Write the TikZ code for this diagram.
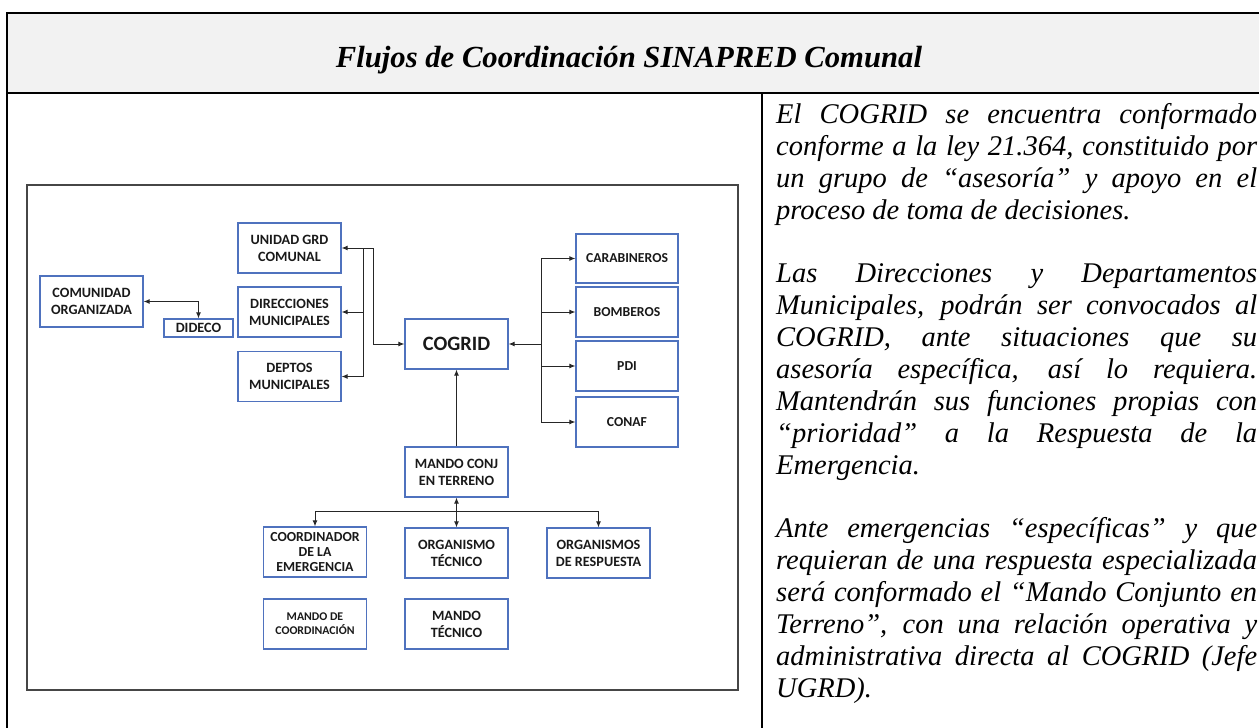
\documentclass[tikz,border=0pt]{standalone}
\usepackage{fontspec}
\setmainfont{Liberation Serif}
\newfontfamily\carl{Carlito}
\usepackage{graphicx}
\usetikzlibrary{arrows.meta}
\definecolor{boxblue}{RGB}{79,114,190}
\definecolor{headgray}{RGB}{242,242,242}
\definecolor{framegray}{RGB}{70,70,70}
\begin{document}
\begin{tikzpicture}[x=1pt,y=-1pt,
  box/.style={draw=boxblue,line width=1.3pt,fill=white,align=center,inner sep=0pt,
    minimum width=103pt,minimum height=50pt,text=black!90,
    font=\carl\bfseries\fontsize{14.2}{17}\selectfont},
  rbox/.style={box,minimum width=102pt,font=\carl\bfseries\fontsize{13.7}{16.5}\selectfont},
  bigbox/.style={box,font=\carl\bfseries\fontsize{20.4}{24}\selectfont},
  smallbox/.style={box,font=\carl\bfseries\fontsize{11.8}{13.8}\selectfont},
  conn/.style={line width=0.9pt,draw=black!85},
  tip/.style={-{Latex[length=6pt,width=5pt]}},
  tipboth/.style={{Latex[length=6pt,width=5pt]}-{Latex[length=6pt,width=5pt]}}]
\useasboundingbox (0,0) rectangle (1259,728);
% table
\fill[headgray] (7,13) rectangle (1259,93);
\draw[line width=2.5pt] (7,728) -- (7,13) -- (1259,13);
\draw[line width=2pt] (7,93) -- (1259,93);
\draw[line width=2pt] (762,93) -- (762,728);
\node[anchor=base,inner sep=0pt] (title) at (629,67)
  {\resizebox{586pt}{!}{\bfseries\itshape Flujos de Coordinación SINAPRED Comunal}};
% image frame
\draw[framegray,line width=1.5pt] (27,185) rectangle (738,690);
% boxes
\node[box] (unidad) at (289.5,248) {UNIDAD GRD\\COMUNAL};
\node[box] (direcciones) at (289.5,312) {DIRECCIONES\\MUNICIPALES};
\node[box] (deptos) at (289.5,376.5) {DEPTOS\\MUNICIPALES};
\node[box,minimum height=51pt] (comunidad) at (91.5,301.5) {COMUNIDAD\\ORGANIZADA};
\node[box,minimum width=69pt,minimum height=18pt] (dideco) at (198.5,328) {DIDECO};
\node[bigbox] (cogrid) at (456.5,344) {COGRID};
\node[rbox,minimum height=49pt] (carab) at (627,258.5) {CARABINEROS};
\node[rbox] (bomb) at (627,312) {BOMBEROS};
\node[rbox] (pdi) at (627,366) {PDI};
\node[rbox] (conaf) at (627,422) {CONAF};
\node[box] (mando) at (456.5,472) {MANDO CONJ\\EN TERRENO};
\node[box,font=\carl\bfseries\fontsize{13.8}{15.4}\selectfont] (coord) at (315,552) {COORDINADOR\\DE LA\\EMERGENCIA};
\node[box] (tecnico) at (456.5,553) {ORGANISMO\\TÉCNICO};
\node[box] (resp) at (598.5,553) {ORGANISMOS\\DE RESPUESTA};
\node[smallbox] (mcoord) at (315,624) {MANDO DE\\COORDINACIÓN};
\node[box] (mtec) at (456.5,624) {MANDO\\TÉCNICO};
% connectors
\coordinate (bl) at (363,0);
\coordinate (br) at (541,0);
\coordinate (hb) at (0,511);
\draw[conn,tipboth] (comunidad.east) -| (dideco.north);
\draw[conn] (bl |- unidad.east) -- (bl |- deptos.east);
\draw[conn,tip] (bl |- direcciones.east) -- (direcciones.east);
\draw[conn,tip] (bl |- deptos.east) -- (deptos.east);
\draw[conn,tipboth] (unidad.east) -- ++(32,0) |- (cogrid.west);
\draw[conn] (br |- carab.west) -- (br |- conaf.west);
\draw[conn,tip] (br |- cogrid.east) -- (cogrid.east);
\draw[conn,tip] (br |- carab.west) -- (carab.west);
\draw[conn,tip] (br |- bomb.west) -- (bomb.west);
\draw[conn,tip] (br |- pdi.west) -- (pdi.west);
\draw[conn,tip] (br |- conaf.west) -- (conaf.west);
\draw[conn,tip] (mando.north) -- (cogrid.south);
\draw[conn] (coord.north |- hb) -- (resp.north |- hb);
\draw[conn,tip] (coord.north |- hb) -- (coord.north);
\draw[conn,tip] (resp.north |- hb) -- (resp.north);
\draw[conn,tipboth] (mando.south) -- (tecnico.north);
% right text
\node[anchor=base west,inner sep=0pt] (texto) at (776,123.5) {\parbox[t]{481pt}{%
\fontsize{28.5}{32}\selectfont\itshape\setlength{\parskip}{31pt}%
El COGRID se encuentra conformado\linebreak
conforme a la ley 21.364, constituido por\linebreak
un grupo de “asesoría” y apoyo en el\linebreak
proceso de toma de decisiones.\par
Las Direcciones y Departamentos\linebreak
Municipales, podrán ser convocados al\linebreak
COGRID, ante situaciones que su\linebreak
asesoría específica, así lo requiera.\linebreak
Mantendrán sus funciones propias con\linebreak
“prioridad” a la Respuesta de la\linebreak
Emergencia.\par
Ante emergencias “específicas” y que\linebreak
requieran de una respuesta especializada\linebreak
será conformado el “Mando Conjunto en\linebreak
Terreno”, con una relación operativa y\linebreak
administrativa directa al COGRID (Jefe\linebreak
UGRD).}};
\end{tikzpicture}
\end{document}
